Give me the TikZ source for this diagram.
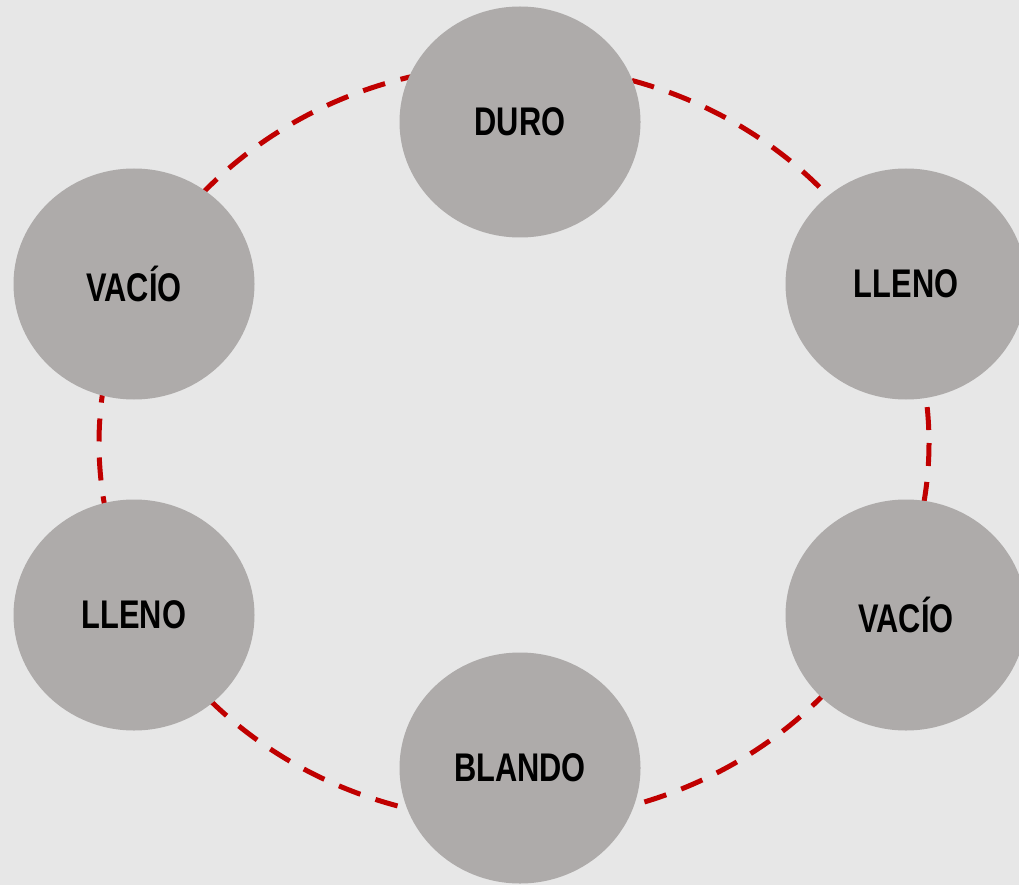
\documentclass[tikz,border=0pt]{standalone}
\usepackage{fontspec}
\setmainfont{Liberation Sans}[FakeStretch=0.77]
\usetikzlibrary{shapes.geometric}
\definecolor{bg}{HTML}{E7E7E7}
\definecolor{nodegray}{HTML}{AEABAA}
\definecolor{ringred}{HTML}{C00000}
\tikzset{
  stage/.style={ellipse, fill=nodegray, draw=none, minimum width=241pt, minimum height=231pt, inner sep=0pt,
    font=\fontsize{40}{44}\selectfont\bfseries, text=black},
  ring/.style={draw=ringred, line width=5pt, dash pattern=on 23pt off 16pt}
}
\begin{document}
\begin{tikzpicture}[x=1pt,y=-1pt]
\fill[bg] (0,0) rectangle (1019,885);
\useasboundingbox (0,0) rectangle (1019,885);
\draw[ring] (514,443) ellipse [x radius=415, y radius=378];
\node[stage] (duro) at (520,122) {DURO};
\node[stage] (llenoR) at (906,284) {LLENO};
\node[stage] (vacioR) at (906,615) {VACÍO};
\node[stage] (blando) at (520,768) {BLANDO};
\node[stage] (llenoL) at (134,615) {LLENO};
\node[stage] (vacioL) at (134,284) {VACÍO};
\end{tikzpicture}
\end{document}
